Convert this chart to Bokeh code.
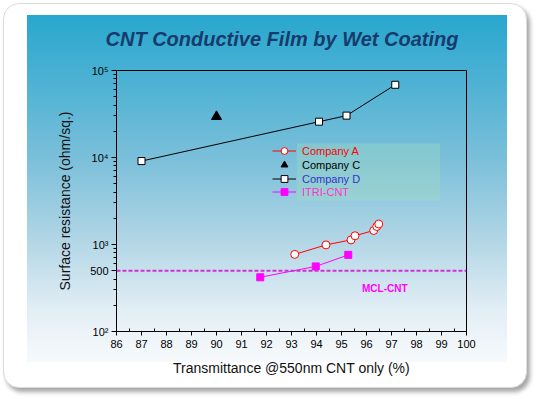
from bokeh.plotting import figure
from bokeh.models import FixedTicker, Range1d, Span, Label, Legend, LegendItem, BoxAnnotation
from bokeh.embed import file_html
from bokeh.resources import INLINE

# ---- data ----
xA = [93.13, 94.38, 95.38, 95.54, 96.29, 96.41, 96.49]
yA = [770, 990, 1130, 1260, 1450, 1610, 1720]
xC = [90.0]
yC = [29500]
xD = [87.0, 94.1, 95.2, 97.15]
yD = [9100, 25800, 30300, 68500]
xI = [91.75, 93.97, 95.27]
yI = [420, 560, 760]
mcl_level = 500
x_ticks = list(range(86, 101))
y_ticks = [100, 500, 1000, 10000, 100000]
y_tick_labels = {100: "10²", 500: "500", 1000: "10³", 10000: "10⁴", 100000: "10⁵"}

FONT = "Liberation Sans"

p = figure(width=524, height=385, x_range=Range1d(86, 100), y_range=Range1d(100, 100000),
           y_axis_type="log", output_backend="svg", toolbar_location=None,
           min_border_left=112, min_border_right=62, min_border_top=66, min_border_bottom=58)
p.border_fill_color = None
p.background_fill_color = None
p.outline_line_color = "black"
p.outline_line_width = 1
p.grid.visible = False
p.styles = {
    "background": "linear-gradient(to bottom, #28a7ce 0%, #4fb2d4 20%, #7cc0da 42%, #b2d6e6 65%, #e2eef5 85%, #f7fafc 100%) 23px 11px / 480px 347px no-repeat, #ffffff",
    "border-radius": "16px",
    "border": "1px solid #dcdcdc",
    "box-shadow": "3px 4px 4px rgba(0,0,0,0.35)",
    "margin-left": "3px",
    "margin-top": "3px",
}

# title
p.title.text = "CNT Conductive Film by Wet Coating"
p.title.align = "left"
p.title.text_font = FONT
p.title.text_font_style = "bold italic"
p.title.text_font_size = "20px"
p.title.text_color = "#163b6c"
p.title.standoff = 41
p.title.offset = -11

# axes
xa = p.xaxis[0]
xa.ticker = FixedTicker(ticks=x_ticks, minor_ticks=[t + 0.5 for t in x_ticks[:-1]])
xa.major_tick_out = 4
xa.major_tick_in = 0
xa.minor_tick_in = 3
xa.minor_tick_out = 0
xa.major_label_standoff = 4
xa.axis_label = "Transmittance @550nm CNT only (%)"
xa.axis_label_standoff = 9
ya = p.yaxis[0]
minors = [m * 10 ** k for k in (2, 3, 4) for m in range(2, 10) if m * 10 ** k != 500]
ya.ticker = FixedTicker(ticks=y_ticks, minor_ticks=minors)
ya.major_label_overrides = y_tick_labels
ya.major_tick_out = 5
ya.major_tick_in = 0
ya.minor_tick_out = 3
ya.minor_tick_in = 0
ya.major_label_standoff = 3
ya.axis_label = "Surface resistance (ohm/sq.)"
ya.axis_label_standoff = 14
for ax in (xa, ya):
    ax.axis_line_color = "black"
    ax.major_tick_line_color = "black"
    ax.minor_tick_line_color = "black"
    ax.major_label_text_font = FONT
    ax.major_label_text_font_size = "11px"
    ax.major_label_text_color = "black"
    ax.axis_label_text_font = FONT
    ax.axis_label_text_font_size = "14px"
    ax.axis_label_text_font_style = "normal"
    ax.axis_label_text_color = "#111111"

# legend background box
p.add_layout(BoxAnnotation(left=93.22, right=98.94, bottom=3200, top=14500,
                           fill_color="#a0dcbc", fill_alpha=0.35, line_color=None))

# reference line
p.add_layout(Span(location=mcl_level, dimension="width", line_color="#d030d0",
                  line_dash="4 2", line_width=2))

# series
lD = p.line(xD, yD, line_color="black", line_width=1)
sD = p.scatter(xD, yD, marker="square", size=7, fill_color="white", line_color="black", line_width=1)
sC = p.scatter(xC, yC, marker="triangle", size=10, fill_color="black", line_color="black")
lA = p.line(xA, yA, line_color="red", line_width=1)
sA = p.scatter(xA, yA, marker="circle", size=8, fill_color="white", line_color="red", line_width=1)
lI = p.line(xI, yI, line_color="#ff00ff", line_width=1)
sI = p.scatter(xI, yI, marker="square", size=7, fill_color="#ff00ff", line_color="#ff00ff")

p.add_layout(Label(x=95.82, y=315, text="MCL-CNT", text_font=FONT, text_font_style="bold",
                   text_font_size="10px", text_color="#ff00ff", text_baseline="middle"))

entries = [("Company A", [lA, sA], "red", 172),
           ("Company C", [sC], "black", 158),
           ("Company D", [lD, sD], "#3333cc", 144),
           ("ITRI-CNT", [lI, sI], "#ff33cc", 131)]
for lab, rends, col, vy in entries:
    lg = Legend(items=[LegendItem(label=lab, renderers=rends)], location=(156, vy),
                label_text_color=col, label_text_font=FONT, label_text_font_size="11px",
                glyph_width=24, glyph_height=17, label_height=12, label_standoff=6,
                padding=0, margin=0, spacing=0, border_line_color=None,
                background_fill_alpha=0)
    p.add_layout(lg)

open("out.html", "w").write(file_html(p, INLINE))
